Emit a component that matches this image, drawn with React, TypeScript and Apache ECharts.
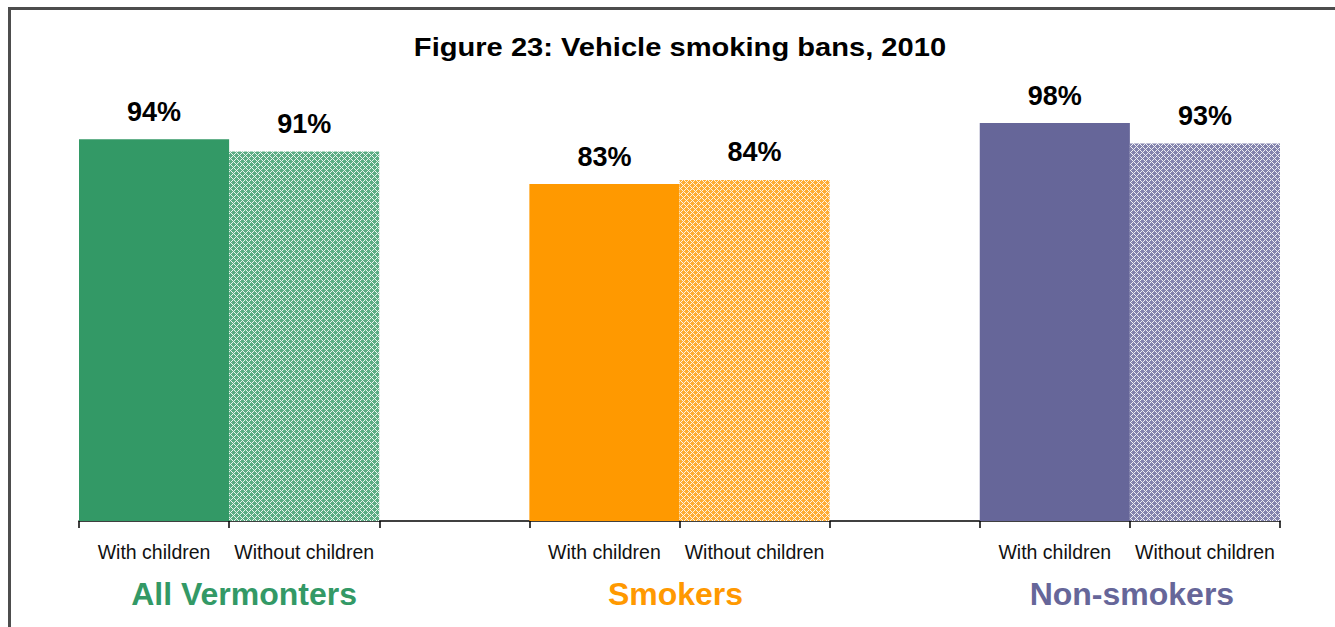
import React, { useEffect, useRef } from "react";
import * as echarts from "echarts";

const titleText = "Figure 23: Vehicle smoking bans, 2010";
const groups = ["All Vermonters", "Smokers", "Non-smokers"];
const groupColors = ["#339966", "#FF9900", "#666699"];
const subLabels = ["With children", "Without children"];
const withChildren = [94, 83, 98];
const withoutChildren = [91, 84, 93];

function makePattern(color: string): HTMLCanvasElement {
  const size = 6;
  const c = document.createElement("canvas");
  c.width = size;
  c.height = size;
  const ctx = c.getContext("2d")!;
  ctx.fillStyle = color;
  ctx.fillRect(0, 0, size, size);
  for (let x = 0; x < size; x++) {
    for (let y = 0; y < size; y++) {
      if ((x + y) % size === 0 || (x - y + size) % size === 0) {
        ctx.fillStyle = "rgba(255,255,255,0.9)";
      } else {
        ctx.fillStyle = "rgba(255,255,255,0.2)";
      }
      ctx.fillRect(x, y, 1, 1);
    }
  }
  return c;
}

export default function App() {
  const ref = useRef<HTMLDivElement>(null);

  useEffect(() => {
    if (!ref.current) return;
    const chart = echarts.init(ref.current, undefined, { renderer: "svg" });

    // 8 slots: bar, bar, gap, bar, bar, gap, bar, bar
    const categories: string[] = [];
    const data: any[] = [];
    groups.forEach((g, i) => {
      categories.push(subLabels[0]);
      data.push({ value: withChildren[i], itemStyle: { color: groupColors[i] } });
      categories.push(subLabels[1]);
      data.push({
        value: withoutChildren[i],
        itemStyle: { color: { image: makePattern(groupColors[i]), repeat: "repeat" } },
      });
      if (i < groups.length - 1) {
        categories.push("");
        data.push(null);
      }
    });

    // group label axis: boundary points, labels at 1, 4, 7
    const groupPads = [
      [0, 0, 0, 30],
      [0, 8, 0, 0],
      [0, 0, 0, 4],
    ];
    const groupAxisData: any[] = [];
    for (let k = 0; k <= categories.length; k++) {
      const gi = [1, 4, 7].indexOf(k);
      if (gi >= 0) {
        groupAxisData.push({
          value: groups[gi],
          textStyle: { color: groupColors[gi], padding: groupPads[gi] },
        });
      } else {
        groupAxisData.push({ value: "" });
      }
    }

    chart.setOption({
      animation: false,
      graphic: [
        {
          type: "text",
          x: 672,
          y: 39,
          scaleX: 1.12,
          style: {
            text: titleText,
            align: "center",
            verticalAlign: "middle",
            fontFamily: "Liberation Sans, Arial, sans-serif",
            fontWeight: "bold",
            fontSize: 26,
            fill: "#000",
          },
        },
      ],
      grid: { left: 71, right: 55, top: 107, bottom: 106 },
      xAxis: [
        {
          type: "category",
          data: categories,
          axisLine: { lineStyle: { color: "#000", width: 1.5 } },
          axisTick: { show: true, length: 7, lineStyle: { color: "#000", width: 1.5 } },
          axisLabel: {
            interval: 0,
            margin: 21,
            fontFamily: "Liberation Sans, Arial, sans-serif",
            fontSize: 19.5,
            color: "#111",
          },
        },
        {
          type: "category",
          position: "bottom",
          boundaryGap: false,
          data: groupAxisData,
          axisLine: { show: false },
          axisTick: { show: false },
          axisLabel: {
            interval: 0,
            margin: 57,
            fontFamily: "Liberation Sans, Arial, sans-serif",
            fontWeight: "bold",
            fontSize: 32,
          },
        },
      ],
      yAxis: {
        type: "value",
        min: 0,
        max: 100,
        show: false,
        splitLine: { show: false },
      },
      series: [
        {
          type: "bar",
          xAxisIndex: 0,
          data,
          barWidth: "100%",
          barGap: "0%",
          label: {
            show: true,
            position: "top",
            distance: 14,
            formatter: "{c}%",
            fontFamily: "Liberation Sans, Arial, sans-serif",
            fontWeight: "bold",
            fontSize: 27,
            color: "#000",
          },
        },
      ],
    });

    return () => chart.dispose();
  }, []);

  return (
    <div
      style={{
        position: "fixed",
        left: 0,
        top: 0,
        width: "100vw",
        height: "100vh",
        overflow: "hidden",
        background: "#fff",
      }}
    >
      <div
        style={{
          position: "absolute",
          left: 8,
          top: 7,
          width: 2000,
          height: 2000,
          borderLeft: "3px solid #4d4d4d",
          borderTop: "3px solid #4d4d4d",
        }}
      />
      <div
        ref={ref}
        style={{ position: "absolute", left: 8, top: 8, width: 1327, height: 619 }}
      />
    </div>
  );
}
